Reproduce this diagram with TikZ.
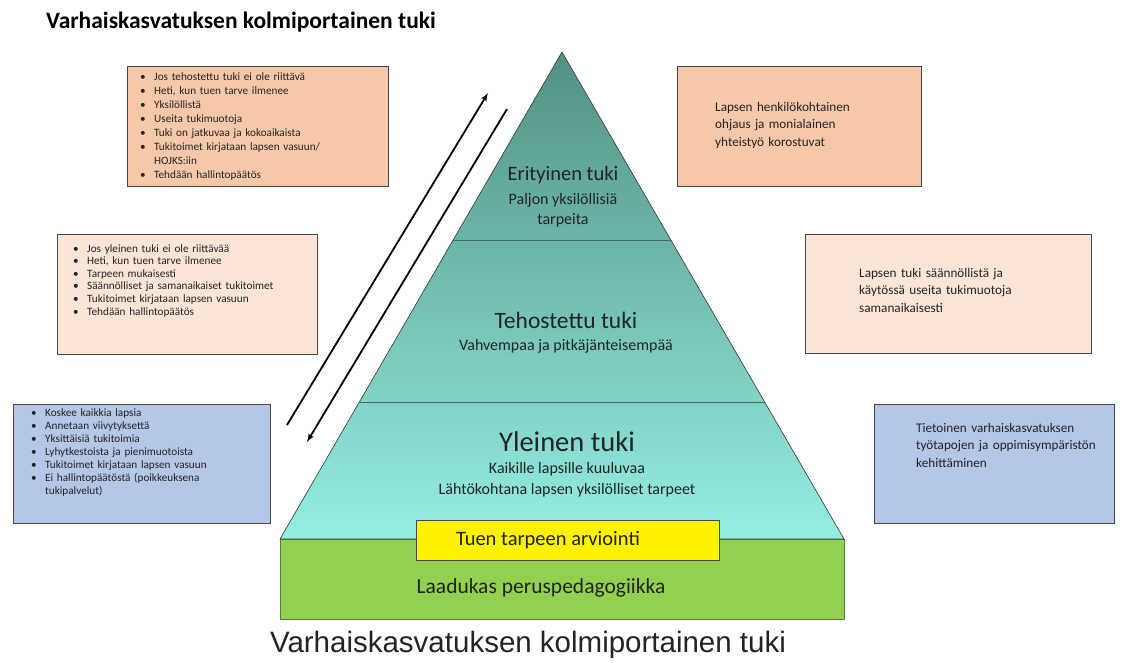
\documentclass[tikz,border=0pt]{standalone}
\usepackage{fontspec}
\setmainfont{Carlito}
\newfontfamily\capfont{Liberation Sans}
\usetikzlibrary{arrows,positioning,calc}

\definecolor{orangebox}{RGB}{246,200,170}
\definecolor{peachbox}{RGB}{251,229,215}
\definecolor{bluebox}{RGB}{180,199,231}
\definecolor{boxline}{RGB}{70,70,70}
\definecolor{pyrtop}{RGB}{82,145,132}
\definecolor{pyrbot}{RGB}{148,238,225}
\definecolor{divline}{RGB}{60,110,100}
\definecolor{basegreen}{RGB}{146,208,80}
\definecolor{greenline}{RGB}{90,120,70}
\definecolor{txtgray}{RGB}{35,35,35}
\newcommand{\blt}{\makebox[14pt][l]{\textbullet}}
\newcommand{\cnt}{\hspace*{14pt}}

\begin{document}
\begin{tikzpicture}
[x=1pt,y=-1pt,
    box/.style={draw=boxline,line width=.6pt,anchor=north west,inner sep=0},
    lst/.style={anchor=base west,inner sep=0,text width=250pt,align=left,
        font=\fontsize{11.2}{#1}\selectfont,text=txtgray},
    note/.style={anchor=base west,inner sep=0,text width=#1,align=left,
        font=\fontsize{13.2}{17.5}\selectfont,text=txtgray},
    lvl/.style={inner sep=0,align=center,text=txtgray},
    arr/.style={>=latex',line width=1.8pt,->}]
\useasboundingbox (0,0) rectangle (1124,662);
%%%%% title
\node (title) [anchor=base west,inner sep=0,font=\bfseries\fontsize{23.5}{28}\selectfont] at (46,28)
    {Varhaiskasvatuksen kolmiportainen tuki};
%%%%% the pyramid
\node (base) [draw=greenline,fill=basegreen,line width=.6pt,anchor=north west,inner sep=0,
    minimum width=564,minimum height=80] at (280,539) {};
\coordinate (apex) at (562,52);
\coordinate (bl) at (280,539);
\coordinate (br) at (844,539);
\shade[top color=pyrtop,bottom color=pyrbot] (apex) -- (br) -- (bl) -- cycle;
\draw[line width=.6pt,black!80] (apex) -- (br) -- (bl) -- cycle;
\coordinate (d1l) at ($(apex)!.386!(bl)$);
\coordinate (d1r) at ($(apex)!.386!(br)$);
\coordinate (d2l) at ($(apex)!.719!(bl)$);
\coordinate (d2r) at ($(apex)!.719!(br)$);
\draw[divline,line width=.7pt] (d1l) -- (d1r);
\draw[divline,line width=.7pt] (d2l) -- (d2r);
%% levels
\node (eri) [lvl,font=\fontsize{20.5}{24}\selectfont] at (563,175) {Erityinen tuki};
\node (erisub) [lvl,font=\fontsize{16}{19.5}\selectfont] at (563,210) {Paljon yksilöllisiä\\tarpeita};
\node (teh) [lvl,font=\fontsize{23.5}{28}\selectfont] at (566,320) {Tehostettu tuki};
\node (tehsub) [lvl,font=\fontsize{16}{20}\selectfont] at (566,346) {Vahvempaa ja pitkäjänteisempää};
\node (yle) [lvl,font=\fontsize{28.5}{34}\selectfont] at (567,442) {Yleinen tuki};
\node (ylesub) [lvl,font=\fontsize{16}{21}\selectfont] at (567,480) {Kaikille lapsille kuuluvaa\\Lähtökohtana lapsen yksilölliset tarpeet};
%% assessment and base
\node (assess) [draw=boxline,fill=yellow,line width=.6pt,anchor=north west,inner sep=0,
    minimum width=303,minimum height=40] at (416,520) {};
\node (assesstxt) [lvl,font=\fontsize{20.5}{24}\selectfont] at (548,540) {Tuen tarpeen arviointi};
\node (basetxt) [lvl,font=\fontsize{21.5}{26}\selectfont] at (541,588) {Laadukas peruspedagogiikka};
%%%%% arrows
\coordinate (upA) at (287,425);
\coordinate (upB) at (488,93);
\coordinate (dnA) at (507,109);
\coordinate (dnB) at (307,442);
\draw[arr] (upA) -- (upB);
\draw[arr] (dnA) -- (dnB);
%%%%% left boxes
\node (erilist) [box,fill=orangebox,minimum width=261,minimum height=120] at (127,66) {};
\node [lst=14] at (140,80) {\blt Jos tehostettu tuki ei ole riittävä\\
    \blt Heti, kun tuen tarve ilmenee\\
    \blt Yksilöllistä\\
    \blt Useita tukimuotoja\\
    \blt Tuki on jatkuvaa ja kokoaikaista\\
    \blt Tukitoimet kirjataan lapsen vasuun/\\
    \cnt HOJKS:iin\\
    \blt Tehdään hallintopäätös};
\node (tehlist) [box,fill=peachbox,minimum width=260,minimum height=120] at (57,234) {};
\node [lst=12.6] at (73,252) {\blt Jos yleinen tuki ei ole riittävää\\
    \blt Heti, kun tuen tarve ilmenee\\
    \blt Tarpeen mukaisesti\\
    \blt Säännölliset ja samanaikaiset tukitoimet\\
    \blt Tukitoimet kirjataan lapsen vasuun\\
    \blt Tehdään hallintopäätös};
\node (ylelist) [box,fill=bluebox,minimum width=257,minimum height=119] at (13,404) {};
\node [lst=13] at (31,416) {\blt Koskee kaikkia lapsia\\
    \blt Annetaan viivytyksettä\\
    \blt Yksittäisiä tukitoimia\\
    \blt Lyhytkestoista ja pienimuotoista\\
    \blt Tukitoimet kirjataan lapsen vasuun\\
    \blt Ei hallintopäätöstä (poikkeuksena\\
    \cnt tukipalvelut)};
%%%%% right boxes
\node (erinote) [box,fill=orangebox,minimum width=244,minimum height=120] at (677,66) {};
\node [note=200pt] at (715,111) {Lapsen henkilökohtainen\\ohjaus ja monialainen\\yhteistyö korostuvat};
\node (tehnote) [box,fill=peachbox,minimum width=286,minimum height=119] at (805,234) {};
\node [note=220pt] at (859,277) {Lapsen tuki säännöllistä ja\\käytössä useita tukimuotoja\\samanaikaisesti};
\node (ylenote) [box,fill=bluebox,minimum width=240,minimum height=119] at (874,404) {};
\node [note=200pt] at (916,432) {Tietoinen varhaiskasvatuksen\\työtapojen ja oppimisympäristön\\kehittäminen};
%%%%% caption
\node (caption) [inner sep=0,font=\capfont\fontsize{29.5}{33}\selectfont,text=txtgray] at (528,645)
    {Varhaiskasvatuksen kolmiportainen tuki};
\end{tikzpicture}
\end{document}
